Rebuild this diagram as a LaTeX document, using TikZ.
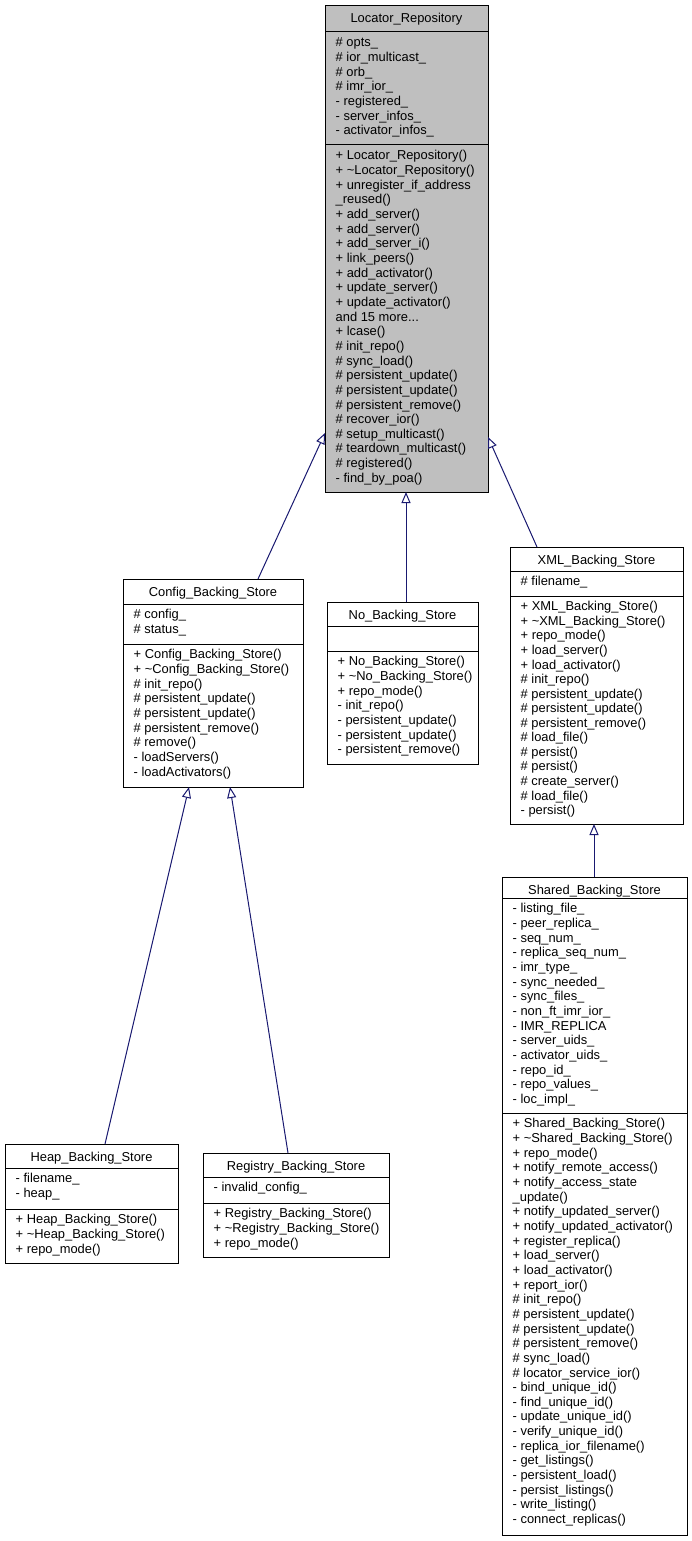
\documentclass[tikz,border=0pt]{standalone}
\usepackage{fontspec}
\setmainfont{Liberation Sans}
\usetikzlibrary{arrows.meta,calc}
\definecolor{edgeblue}{RGB}{25,25,112}
\definecolor{boxgray}{RGB}{191,191,191}
\newcommand\mydots{...}
\tikzset{
  umlbox/.style={draw=black, line width=1pt, fill=white, inner sep=0pt, outer sep=0pt, anchor=north west},
  sepline/.style={draw=black, line width=1pt},
  txt/.style={font=\fontsize{12.9}{14}\selectfont, inner sep=0pt, anchor=base west},
  ttl/.style={font=\fontsize{12.9}{14}\selectfont, inner sep=0pt, anchor=base},
  inherit/.style={draw=edgeblue, line width=1pt, -{Triangle[open, length=11pt, width=9pt, line width=1pt]}}
}
\begin{document}
\begin{tikzpicture}[x=1pt, y=-1pt]
\useasboundingbox (0,0) rectangle (692,1541);

% ---------------- Locator_Repository
\node[umlbox, fill=boxgray, minimum width=163pt, minimum height=486pt] (LR) at (325,6) {};
\draw[sepline] (LR.west |- 0,32) -- (LR.east |- 0,32);
\draw[sepline] (LR.west |- 0,145) -- (LR.east |- 0,145);
\node[ttl] (LRt) at (406.5,23) {Locator\_Repository};
\foreach \t [count=\i] in {{\# opts\_},{\# ior\_multicast\_},{\# orb\_},{\# imr\_ior\_},{- registered\_},{- server\_infos\_},{- activator\_infos\_}}
  \node[txt] (LRa\i) at (335.5,{32.3+14.65*\i}) {\t};
\foreach \t [count=\i] in {{+ Locator\_Repository()},{+ \textasciitilde Locator\_Repository()},{+ unregister\_if\_address},{\_reused()},{+ add\_server()},{+ add\_server()},{+ add\_server\_i()},{+ link\_peers()},{+ add\_activator()},{+ update\_server()},{+ update\_activator()},{and 15 more\mydots},{+ lcase()},{\# init\_repo()},{\# sync\_load()},{\# persistent\_update()},{\# persistent\_update()},{\# persistent\_remove()},{\# recover\_ior()},{\# setup\_multicast()},{\# teardown\_multicast()},{\# registered()},{- find\_by\_poa()}}
  \node[txt] (LRm\i) at (335.5,{145.3+14.65*\i}) {\t};

% ---------------- Config_Backing_Store
\node[umlbox, minimum width=180pt, minimum height=208pt] (CBS) at (123,579) {};
\draw[sepline] (CBS.west |- 0,604) -- (CBS.east |- 0,604);
\draw[sepline] (CBS.west |- 0,644) -- (CBS.east |- 0,644);
\node[ttl] (CBSt) at (213,596) {Config\_Backing\_Store};
\foreach \t [count=\i] in {{\# config\_},{\# status\_}}
  \node[txt] (CBSa\i) at (133.5,{604.3+14.65*\i}) {\t};
\foreach \t [count=\i] in {{+ Config\_Backing\_Store()},{+ \textasciitilde Config\_Backing\_Store()},{\# init\_repo()},{\# persistent\_update()},{\# persistent\_update()},{\# persistent\_remove()},{\# remove()},{- loadServers()},{- loadActivators()}}
  \node[txt] (CBSm\i) at (133.5,{644.3+14.65*\i}) {\t};

% ---------------- No_Backing_Store
\node[umlbox, minimum width=151pt, minimum height=162pt] (NBS) at (327,602) {};
\draw[sepline] (NBS.west |- 0,626) -- (NBS.east |- 0,626);
\draw[sepline] (NBS.west |- 0,651) -- (NBS.east |- 0,651);
\node[ttl] (NBSt) at (402.5,619) {No\_Backing\_Store};
\foreach \t [count=\i] in {{+ No\_Backing\_Store()},{+ \textasciitilde No\_Backing\_Store()},{+ repo\_mode()},{- init\_repo()},{- persistent\_update()},{- persistent\_update()},{- persistent\_remove()}}
  \node[txt] (NBSm\i) at (337.5,{651.3+14.65*\i}) {\t};

% ---------------- XML_Backing_Store
\node[umlbox, minimum width=173pt, minimum height=277pt] (XBS) at (510,547) {};
\draw[sepline] (XBS.west |- 0,571) -- (XBS.east |- 0,571);
\draw[sepline] (XBS.west |- 0,596) -- (XBS.east |- 0,596);
\node[ttl] (XBSt) at (596.5,564) {XML\_Backing\_Store};
\node[txt] (XBSa1) at (520.5,{571.3+14.65}) {\# filename\_};
\foreach \t [count=\i] in {{+ XML\_Backing\_Store()},{+ \textasciitilde XML\_Backing\_Store()},{+ repo\_mode()},{+ load\_server()},{+ load\_activator()},{\# init\_repo()},{\# persistent\_update()},{\# persistent\_update()},{\# persistent\_remove()},{\# load\_file()},{\# persist()},{\# persist()},{\# create\_server()},{\# load\_file()},{- persist()}}
  \node[txt] (XBSm\i) at (520.5,{596.3+14.55*\i}) {\t};

% ---------------- Shared_Backing_Store
\node[umlbox, minimum width=185pt, minimum height=658pt] (SBS) at (502,877) {};
\draw[sepline] (SBS.west |- 0,898) -- (SBS.east |- 0,898);
\draw[sepline] (SBS.west |- 0,1113) -- (SBS.east |- 0,1113);
\node[ttl] (SBSt) at (594.5,894) {Shared\_Backing\_Store};
\foreach \t [count=\i] in {{- listing\_file\_},{- peer\_replica\_},{- seq\_num\_},{- replica\_seq\_num\_},{- imr\_type\_},{- sync\_needed\_},{- sync\_files\_},{- non\_ft\_imr\_ior\_},{- IMR\_REPLICA},{- server\_uids\_},{- activator\_uids\_},{- repo\_id\_},{- repo\_values\_},{- loc\_impl\_}}
  \node[txt] (SBSa\i) at (512.5,{898.3+14.65*\i}) {\t};
\foreach \t [count=\i] in {{+ Shared\_Backing\_Store()},{+ \textasciitilde Shared\_Backing\_Store()},{+ repo\_mode()},{+ notify\_remote\_access()},{+ notify\_access\_state},{\_update()},{+ notify\_updated\_server()},{+ notify\_updated\_activator()},{+ register\_replica()},{+ load\_server()},{+ load\_activator()},{+ report\_ior()},{\# init\_repo()},{\# persistent\_update()},{\# persistent\_update()},{\# persistent\_remove()},{\# sync\_load()},{\# locator\_service\_ior()},{- bind\_unique\_id()},{- find\_unique\_id()},{- update\_unique\_id()},{- verify\_unique\_id()},{- replica\_ior\_filename()},{- get\_listings()},{- persistent\_load()},{- persist\_listings()},{- write\_listing()},{- connect\_replicas()}}
  \node[txt] (SBSm\i) at (512.5,{1113.3+14.65*\i}) {\t};

% ---------------- Heap_Backing_Store
\node[umlbox, minimum width=173pt, minimum height=119pt] (HBS) at (5,1144) {};
\draw[sepline] (HBS.west |- 0,1168) -- (HBS.east |- 0,1168);
\draw[sepline] (HBS.west |- 0,1209) -- (HBS.east |- 0,1209);
\node[ttl] (HBSt) at (91.5,1161) {Heap\_Backing\_Store};
\foreach \t [count=\i] in {{- filename\_},{- heap\_}}
  \node[txt] (HBSa\i) at (15.5,{1168.3+14.65*\i}) {\t};
\foreach \t [count=\i] in {{+ Heap\_Backing\_Store()},{+ \textasciitilde Heap\_Backing\_Store()},{+ repo\_mode()}}
  \node[txt] (HBSm\i) at (15.5,{1209.3+14.65*\i}) {\t};

% ---------------- Registry_Backing_Store
\node[umlbox, minimum width=186pt, minimum height=104pt] (RBS) at (203,1153) {};
\draw[sepline] (RBS.west |- 0,1177) -- (RBS.east |- 0,1177);
\draw[sepline] (RBS.west |- 0,1203) -- (RBS.east |- 0,1203);
\node[ttl] (RBSt) at (296,1170) {Registry\_Backing\_Store};
\node[txt] (RBSa1) at (213.5,{1177.3+14.65}) {- invalid\_config\_};
\foreach \t [count=\i] in {{+ Registry\_Backing\_Store()},{+ \textasciitilde Registry\_Backing\_Store()},{+ repo\_mode()}}
  \node[txt] (RBSm\i) at (213.5,{1203.3+14.65*\i}) {\t};

% ---------------- inheritance connectors
\draw[inherit] ($(CBS.north west)+(135,0)$) -- ($(LR.north west)+(0,427)$);
\draw[inherit] ($(NBS.north west)+(79,0)$) -- ($(LR.south west)+(81,0)$);
\draw[inherit] ($(XBS.north west)+(27,0)$) -- ($(LR.north east)+(0,431)$);
\draw[inherit] ($(HBS.north west)+(100,0)$) -- ($(CBS.south west)+(66,0)$);
\draw[inherit] ($(RBS.north west)+(85,0)$) -- ($(CBS.south west)+(107,0)$);
\draw[inherit] ($(SBS.north west)+(92,0)$) -- ($(XBS.south west)+(84,0)$);
\end{tikzpicture}
\end{document}
